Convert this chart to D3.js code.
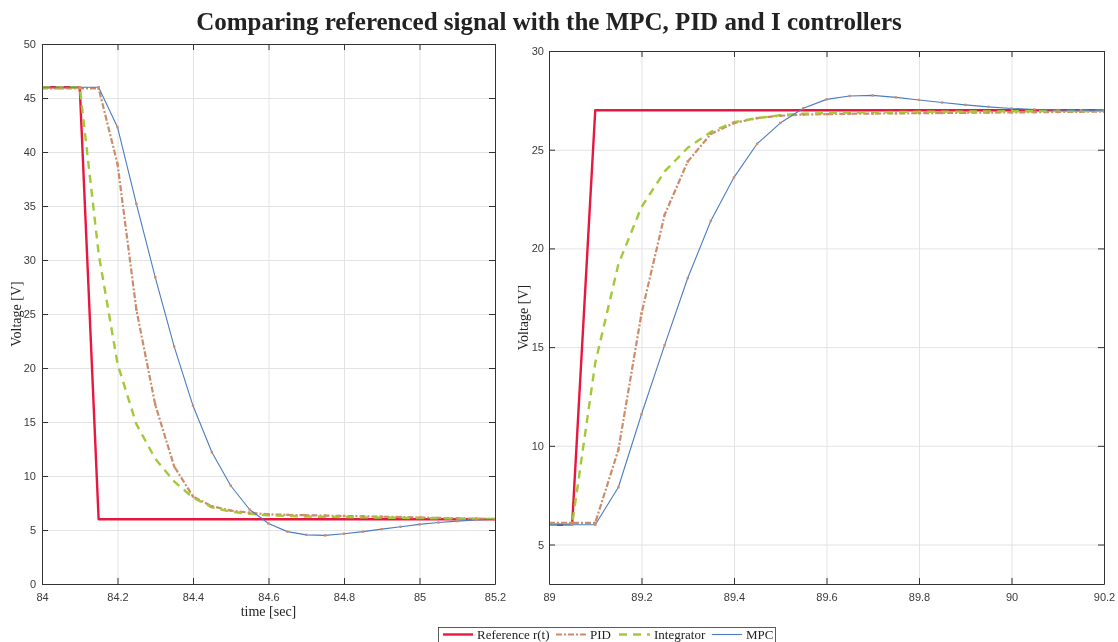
<!DOCTYPE html>
<html>
<head>
<meta charset="utf-8">
<script src="https://d3js.org/d3.v7.min.js"></script>
<title>Comparing referenced signal with the MPC, PID and I controllers</title>
<style>
  body { margin: 0; background: #fff; }
  svg { will-change: transform; }
  .tick text { font-family: "Liberation Sans", Arial, sans-serif; font-size: 11px; }
  .serif { font-family: "Liberation Serif", "Times New Roman", serif; fill: #222; }
</style>
</head>
<body>
<svg id="chart" width="1118" height="642"></svg>
<script>
// ---- data (sample step 0.05 s) ----
const leftTime = [84.00, 84.05, 84.10, 84.15, 84.20, 84.25, 84.30, 84.35, 84.40, 84.45, 84.50, 84.55, 84.60,
                  84.65, 84.70, 84.75, 84.80, 84.85, 84.90, 84.95, 85.00, 85.05, 85.10, 85.15, 85.20];
const leftRef  = [46, 46, 46, 6, 6, 6, 6, 6, 6, 6, 6, 6, 6, 6, 6, 6, 6, 6, 6, 6, 6, 6, 6, 6, 6];
const leftPID  = [45.9, 45.9, 45.9, 45.9, 38.9, 25.4, 16.6, 10.9, 8.1, 7.2, 6.8, 6.6, 6.45,
                  6.4, 6.37, 6.33, 6.3, 6.27, 6.23, 6.2, 6.16, 6.12, 6.08, 6.05, 6.02];
const leftInt  = [46, 46, 46, 30.6, 20.4, 14.8, 11.6, 9.5, 8.0, 7.1, 6.7, 6.5, 6.35,
                  6.3, 6.25, 6.22, 6.2, 6.17, 6.15, 6.12, 6.1, 6.08, 6.06, 6.04, 6.02];
const leftMPC  = [46, 46, 46, 46, 42.3, 35.2, 28.4, 22.0, 16.5, 12.2, 9.1, 6.9, 5.6,
                  4.85, 4.55, 4.5, 4.65, 4.85, 5.08, 5.3, 5.52, 5.7, 5.82, 5.93, 6.0];

const rightTime = [89.00, 89.05, 89.10, 89.15, 89.20, 89.25, 89.30, 89.35, 89.40, 89.45, 89.50, 89.55, 89.60,
                   89.65, 89.70, 89.75, 89.80, 89.85, 89.90, 89.95, 90.00, 90.05, 90.10, 90.15, 90.20];
const rightRef  = [6, 6, 27, 27, 27, 27, 27, 27, 27, 27, 27, 27, 27, 27, 27, 27, 27, 27, 27, 27, 27, 27, 27, 27, 27];
const rightPID  = [6.1, 6.1, 6.1, 9.8, 16.7, 21.7, 24.4, 25.8, 26.35, 26.6, 26.72, 26.78, 26.8,
                   26.82, 26.83, 26.84, 26.85, 26.86, 26.87, 26.88, 26.89, 26.9, 26.91, 26.92, 26.93];
const rightInt  = [6.0, 6.0, 14.2, 19.2, 22.1, 23.9, 25.1, 25.9, 26.4, 26.6, 26.75, 26.82, 26.86,
                   26.88, 26.9, 26.91, 26.92, 26.93, 26.93, 26.94, 26.95, 26.95, 26.96, 26.96, 26.97];
const rightMPC  = [6.0, 6.0, 6.0, 7.9, 11.6, 15.1, 18.5, 21.4, 23.6, 25.3, 26.35, 27.1, 27.55,
                   27.72, 27.75, 27.65, 27.52, 27.39, 27.27, 27.17, 27.09, 27.04, 27.01, 27.0, 27.0];

const seriesNames = ["Reference r(t)", "PID", "Integrator", "MPC"];

const leftXTicks  = [84, 84.2, 84.4, 84.6, 84.8, 85, 85.2];
const leftYTicks  = [0, 5, 10, 15, 20, 25, 30, 35, 40, 45, 50];
const rightXTicks = [89, 89.2, 89.4, 89.6, 89.8, 90, 90.2];
const rightYTicks = [5, 10, 15, 20, 25, 30];

// ---- styles ----
const styles = [
  { color: "#e8173f", width: 2.4, dash: null },
  { color: "#cc8c6a", width: 2.2, dash: "6,2,2,2" },
  { color: "#a2c93a", width: 2.4, dash: "8,6" },
  { color: "#4a7cc6", width: 1.1, dash: null }
];

var svg = d3.select("#chart");

// title
svg.append("text")
  .attr("class", "serif")
  .attr("x", 549).attr("y", 30)
  .attr("text-anchor", "middle")
  .style("font-size", "25px")
  .style("font-weight", "bold")
  .text("Comparing referenced signal with the MPC, PID and I controllers");

function drawPanel(p) {
  var x = d3.scaleLinear().domain(p.xDomain).range([p.left, p.right]);
  var y = d3.scaleLinear().domain(p.yDomain).range([p.bottom, p.top]);
  var w = p.right - p.left, h = p.bottom - p.top;

  var g = svg.append("g");

  // grid
  g.append("g")
    .attr("transform", "translate(0," + p.bottom + ")")
    .call(d3.axisBottom(x).tickValues(p.xTicks).tickSize(-h).tickFormat(""))
    .call(a => a.select(".domain").remove())
    .selectAll("line").attr("stroke", "#e3e3e3");
  g.append("g")
    .attr("transform", "translate(" + p.left + ",0)")
    .call(d3.axisLeft(y).tickValues(p.yTicks).tickSize(-w).tickFormat(""))
    .call(a => a.select(".domain").remove())
    .selectAll("line").attr("stroke", "#e3e3e3");

  // lines
  var clipId = "clip" + p.id;
  svg.append("clipPath").attr("id", clipId)
    .append("rect").attr("x", p.left).attr("y", p.top).attr("width", w).attr("height", h);

  var lines = g.append("g").attr("clip-path", "url(#" + clipId + ")");
  p.series.forEach(function (vals, i) {
    var pts = p.time.map(function (t, k) { return [t, vals[k]]; });
    lines.append("path")
      .datum(pts)
      .attr("fill", "none")
      .attr("stroke", styles[i].color)
      .attr("stroke-width", styles[i].width)
      .attr("stroke-dasharray", styles[i].dash)
      .attr("stroke-linejoin", "round")
      .attr("d", d3.line().x(d => x(d[0])).y(d => y(d[1])));
  });

  // small sample markers on PID and MPC
  [1, 3].forEach(function (i) {
    lines.selectAll(null)
      .data(p.time.map(function (t, k) { return [t, p.series[i][k]]; }))
      .enter().append("rect")
      .attr("x", d => x(d[0]) - 1.2)
      .attr("y", d => y(d[1]) - 1.2)
      .attr("width", 2.4).attr("height", 2.4)
      .attr("fill", "#d08f68");
  });

  // axes box with inward ticks on all sides
  var axCol = "#333";
  var bottom = g.append("g")
    .attr("transform", "translate(0," + p.bottom + ")")
    .call(d3.axisBottom(x).tickValues(p.xTicks).tickSizeInner(-6).tickSizeOuter(0).tickPadding(9).tickFormat(d3.format("~g")));
  var left = g.append("g")
    .attr("transform", "translate(" + p.left + ",0)")
    .call(d3.axisLeft(y).tickValues(p.yTicks).tickSizeInner(-6).tickSizeOuter(0).tickPadding(p.yPad).tickFormat(d3.format("~g")));
  var top = g.append("g")
    .attr("transform", "translate(0," + p.top + ")")
    .call(d3.axisTop(x).tickValues(p.xTicks).tickSizeInner(-6).tickSizeOuter(0).tickFormat(""));
  var right = g.append("g")
    .attr("transform", "translate(" + p.right + ",0)")
    .call(d3.axisRight(y).tickValues(p.yTicks).tickSizeInner(-6).tickSizeOuter(0).tickFormat(""));
  [bottom, left, top, right].forEach(function (a) {
    a.selectAll(".domain").attr("stroke", axCol).attr("stroke-width", 1);
    a.selectAll(".tick line").attr("stroke", axCol);
    a.selectAll(".tick text").attr("fill", "#3a3a3a");
  });

  // y label
  svg.append("text")
    .attr("class", "serif")
    .attr("transform", "translate(" + p.yLabelX + "," + (p.top + h / 2) + ") rotate(-90)")
    .attr("text-anchor", "middle")
    .style("font-size", "14px")
    .text("Voltage [V]");

  if (p.xLabel) {
    svg.append("text")
      .attr("class", "serif")
      .attr("x", p.left + w / 2).attr("y", 616)
      .attr("text-anchor", "middle")
      .style("font-size", "14px")
      .text(p.xLabel);
  }
}

drawPanel({
  id: "L", left: 42, right: 495, top: 44, bottom: 584,
  xDomain: [84, 85.2], yDomain: [0, 50],
  xTicks: leftXTicks, yTicks: leftYTicks,
  time: leftTime, series: [leftRef, leftPID, leftInt, leftMPC],
  yLabelX: 21, yPad: 6, xLabel: "time [sec]"
});

drawPanel({
  id: "R", left: 549, right: 1104, top: 51, bottom: 584,
  xDomain: [89, 90.2], yDomain: [3, 30],
  xTicks: rightXTicks, yTicks: rightYTicks,
  time: rightTime, series: [rightRef, rightPID, rightInt, rightMPC],
  yLabelX: 528, yPad: 5, xLabel: null
});

// legend
var leg = svg.append("g");
leg.append("rect")
  .attr("x", 438.5).attr("y", 627.5)
  .attr("width", 337).attr("height", 22)
  .attr("fill", "#fff").attr("stroke", "#333").attr("stroke-width", 0.8);
var legPos = [
  { x1: 443, x2: 473, tx: 477 },
  { x1: 556, x2: 587, tx: 590 },
  { x1: 619, x2: 650, tx: 654 },
  { x1: 712, x2: 742, tx: 746 }
];
seriesNames.forEach(function (name, i) {
  leg.append("line")
    .attr("x1", legPos[i].x1).attr("x2", legPos[i].x2)
    .attr("y1", 634.5).attr("y2", 634.5)
    .attr("stroke", styles[i].color)
    .attr("stroke-width", styles[i].width)
    .attr("stroke-dasharray", styles[i].dash);
  leg.append("text")
    .attr("class", "serif")
    .attr("x", legPos[i].tx).attr("y", 639)
    .style("font-size", "13px")
    .text(name);
});
</script>
</body>
</html>
